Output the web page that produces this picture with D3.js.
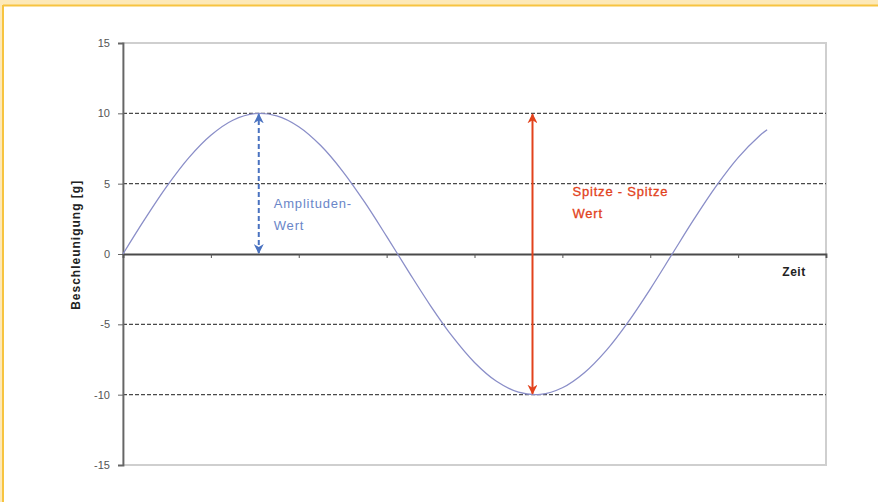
<!DOCTYPE html>
<html>
<head>
<meta charset="utf-8">
<script src="https://cdn.jsdelivr.net/npm/d3@7"></script>
<style>
  html, body { margin: 0; padding: 0; background: #fff; }
  svg { display: block; font-family: "Liberation Sans", Arial, sans-serif; }
</style>
</head>
<body>
<script>
// Zeit (category units) and Beschleunigung [g]
const zeit = [0, 0.25, 0.5, 0.75, 1, 1.25, 1.5, 1.75, 2, 2.25, 2.5, 2.75, 3, 3.25, 3.5, 3.75,
  4, 4.25, 4.5, 4.75, 5, 5.25, 5.5, 5.75, 6, 6.25, 6.5, 6.75, 7, 7.25, 7.33];
const beschleunigung = [0, 2.49, 4.82, 6.85, 8.44, 9.51, 9.98, 9.82, 9.05, 7.71, 5.88, 3.68, 1.25,
  -1.25, -3.68, -5.88, -7.71, -9.05, -9.82, -9.98, -9.51, -8.44, -6.85, -4.82, -2.49, 0,
  2.49, 4.82, 6.85, 8.44, 8.84];

const yTicks = [15, 10, 5, 0, -5, -10, -15];
const gridValues = [10, 5, -5, -10];
const xTicks = [0, 1, 2, 3, 4, 5, 6, 7, 8];

// annotations: amplitude arrow and peak-to-peak arrow
const amplitude = { t: 1.545, from: 0, to: 10, label: ['Amplituden-', 'Wert'] };
const peakPeak = { t: 4.66, from: -10, to: 10, label: ['Spitze - Spitze', 'Wert'] };

const width = 878;
const height = 502;
const margin = { top: 43, right: 52, bottom: 37, left: 123 };

const x = d3.scaleLinear()
  .domain([0, 8])
  .range([margin.left, width - margin.right]);

const y = d3.scaleLinear()
  .domain([-15, 15])
  .range([height - margin.bottom, margin.top]);

const svg = d3.select('body')
  .append('svg')
  .attr('width', width)
  .attr('height', height);

// yellow frame
svg.append('rect').attr('x', 0).attr('y', 0).attr('width', width).attr('height', 5).attr('fill', '#fde9b8');
svg.append('rect').attr('x', 0).attr('y', 0).attr('width', 2).attr('height', height).attr('fill', '#fde9b8');
svg.append('line')
  .attr('x1', 3).attr('x2', width).attr('y1', 5.5).attr('y2', 5.5)
  .attr('stroke', '#f7c440').attr('stroke-width', 2);
svg.append('line')
  .attr('x1', 3).attr('x2', 3).attr('y1', 5).attr('y2', height)
  .attr('stroke', '#f7c440').attr('stroke-width', 2);

// plot area border
svg.append('rect')
  .attr('x', x(0))
  .attr('y', y(15))
  .attr('width', x(8) - x(0))
  .attr('height', y(-15) - y(15))
  .attr('fill', 'none')
  .attr('stroke', '#cfcfcf')
  .attr('stroke-width', 2);

// dashed grid lines
svg.append('g')
  .selectAll('line')
  .data(gridValues)
  .join('line')
  .attr('x1', x(0))
  .attr('x2', x(8))
  .attr('y1', (d) => y(d))
  .attr('y2', (d) => y(d))
  .attr('stroke', '#4a4a4a')
  .attr('stroke-width', 1.3)
  .attr('stroke-dasharray', '4,2');

// y axis
svg.append('g')
  .attr('transform', `translate(${x(0)},0)`)
  .call(d3.axisLeft(y).tickValues(yTicks).tickSize(5).tickPadding(8).tickFormat((d) => String(d)))
  .call((g) => g.select('.domain').attr('stroke', '#666').attr('stroke-width', 1.8))
  .call((g) => g.selectAll('.tick line').attr('stroke', '#666'))
  .call((g) => g.selectAll('.tick text')
    .attr('fill', '#555')
    .attr('font-size', 11)
    .attr('font-family', '"Liberation Sans", Arial, sans-serif'));

// x axis along zero
svg.append('g')
  .attr('transform', `translate(0,${y(0)})`)
  .call(d3.axisBottom(x).tickValues(xTicks).tickSize(4).tickFormat(''))
  .call((g) => g.select('.domain').attr('stroke', '#4a4a4a').attr('stroke-width', 1.8))
  .call((g) => g.selectAll('.tick line').attr('stroke', '#555'));

// sine curve
const line = d3.line()
  .x((d, i) => x(zeit[i]))
  .y((d) => y(d))
  .curve(d3.curveCatmullRom);

svg.append('path')
  .datum(beschleunigung)
  .attr('fill', 'none')
  .attr('stroke', '#8a8ec8')
  .attr('stroke-width', 1.3)
  .attr('d', line);

// arrow heads
const defs = svg.append('defs');
const marker = (id, color) => defs.append('marker')
  .attr('id', id)
  .attr('viewBox', '0 0 10 10')
  .attr('refX', 9)
  .attr('refY', 5)
  .attr('markerWidth', 5)
  .attr('markerHeight', 5)
  .attr('orient', 'auto-start-reverse')
  .append('path')
  .attr('d', 'M0,0 L10,5 L0,10 L3,5 Z')
  .attr('fill', color);
marker('arrBlue', '#4a72c0');
marker('arrRed', '#e2421c');

svg.append('line')
  .attr('x1', x(amplitude.t)).attr('x2', x(amplitude.t))
  .attr('y1', y(amplitude.from) - 1).attr('y2', y(amplitude.to) + 1)
  .attr('stroke', '#4a72c0')
  .attr('stroke-width', 2)
  .attr('stroke-dasharray', '5,3')
  .attr('marker-start', 'url(#arrBlue)')
  .attr('marker-end', 'url(#arrBlue)');

svg.append('line')
  .attr('x1', x(peakPeak.t)).attr('x2', x(peakPeak.t))
  .attr('y1', y(peakPeak.from) - 1).attr('y2', y(peakPeak.to) + 1)
  .attr('stroke', '#e2421c')
  .attr('stroke-width', 2)
  .attr('marker-start', 'url(#arrRed)')
  .attr('marker-end', 'url(#arrRed)');

// annotation labels
svg.append('text')
  .attr('y', y(3.3))
  .attr('fill', '#6a86c8')
  .attr('font-size', 13)
  .attr('letter-spacing', 0.8)
  .selectAll('tspan')
  .data(amplitude.label)
  .join('tspan')
  .attr('x', x(amplitude.t) + 15)
  .attr('dy', (d, i) => (i ? 22 : 0))
  .text((d) => d);

svg.append('text')
  .attr('y', y(4.1))
  .attr('fill', '#e2421c')
  .attr('font-size', 13)
  .attr('letter-spacing', 0.8)
  .attr('stroke', '#e2421c')
  .attr('stroke-width', 0.3)
  .selectAll('tspan')
  .data(peakPeak.label)
  .join('tspan')
  .attr('x', x(peakPeak.t) + 40)
  .attr('dy', (d, i) => (i ? 22 : 0))
  .text((d) => d);

// axis titles
svg.append('text')
  .attr('transform', `translate(80,${y(0.65)}) rotate(-90)`)
  .attr('text-anchor', 'middle')
  .attr('font-size', 12)
  .attr('letter-spacing', 1)
  .attr('font-weight', 'bold')
  .attr('fill', '#222')
  .text('Beschleunigung [g]');

svg.append('text')
  .attr('x', 794)
  .attr('y', y(0) + 22)
  .attr('text-anchor', 'middle')
  .attr('font-size', 12)
  .attr('letter-spacing', 0.5)
  .attr('font-weight', 'bold')
  .attr('fill', '#222')
  .text('Zeit');
</script>
</body>
</html>
